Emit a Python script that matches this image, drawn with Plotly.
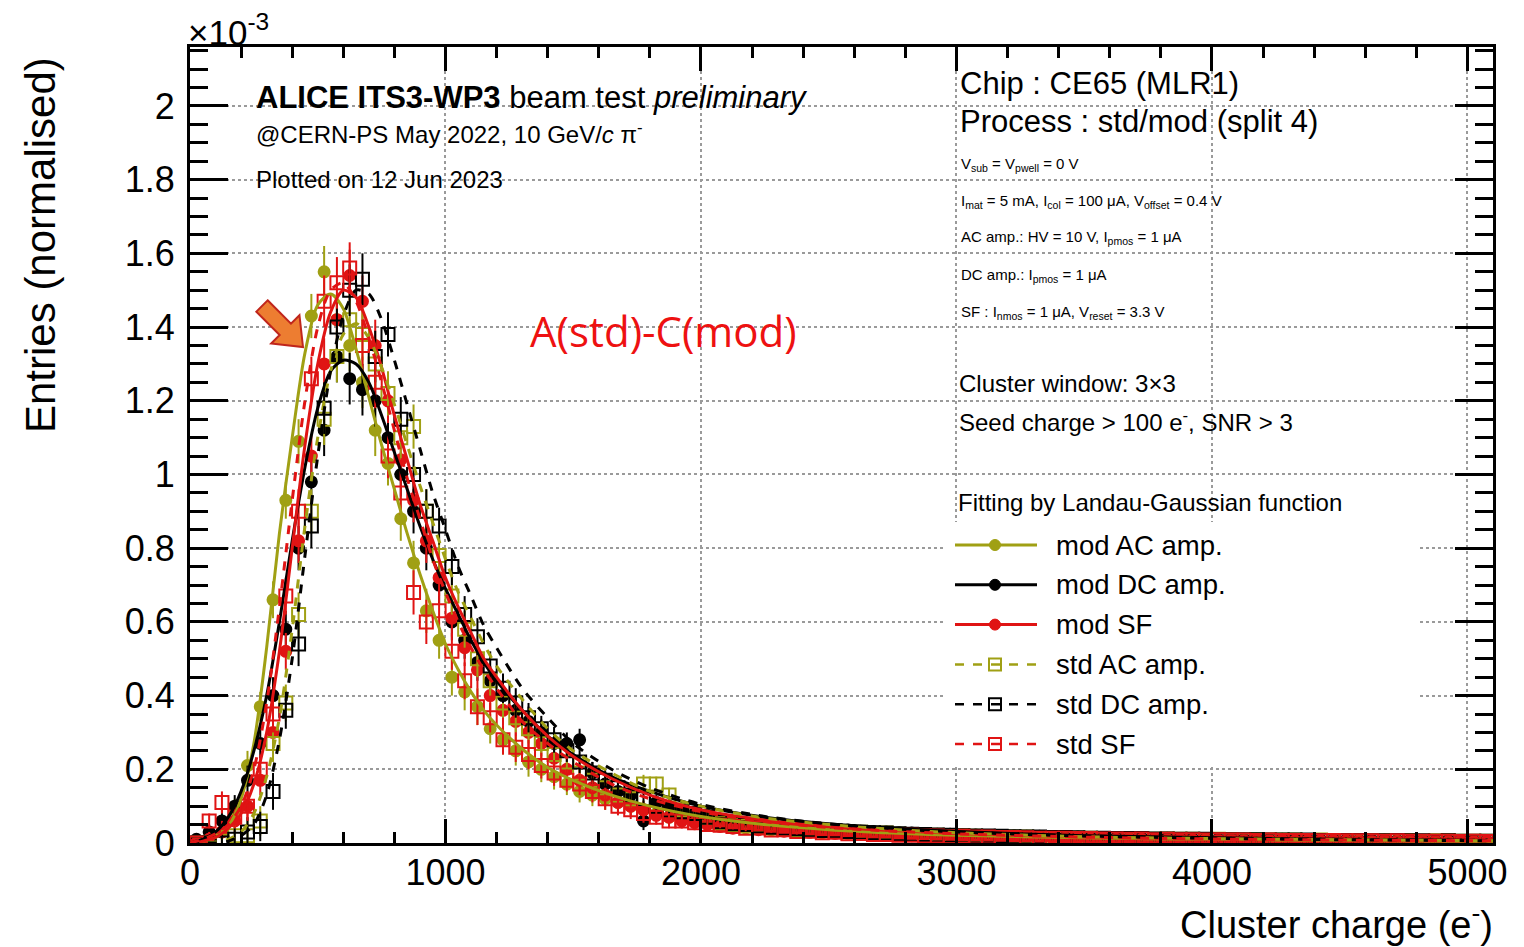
import math
import plotly.graph_objects as go

# ---------------- data (normalised entries, in units of 1e-3) ----------------
BIN_WIDTH = 50
N_BINS = 102
bin_centers = [25 + BIN_WIDTH * i for i in range(N_BINS)]

# first 41 bins (25 .. 2025 e-)
mod_ac_head = [0.00, 0.01, 0.03, 0.09, 0.21, 0.37, 0.66, 0.93, 1.09, 1.43,
               1.55, 1.42, 1.35, 1.25, 1.12, 1.03, 0.88, 0.76, 0.63, 0.55,
               0.45, 0.41, 0.37, 0.31, 0.28, 0.25, 0.22, 0.20, 0.18, 0.16,
               0.14, 0.13, 0.12, 0.11, 0.10, 0.09, 0.08, 0.07, 0.065, 0.06, 0.055]
mod_dc_head = [0.01, 0.03, 0.06, 0.10, 0.17, 0.27, 0.40, 0.58, 0.80, 0.98,
               1.12, 1.32, 1.26, 1.23, 1.20, 1.10, 1.00, 0.90, 0.80, 0.70,
               0.60, 0.55, 0.49, 0.44, 0.40, 0.36, 0.33, 0.30, 0.27, 0.27,
               0.28, 0.19, 0.16, 0.14, 0.13, 0.06, 0.11, 0.10, 0.09, 0.08, 0.075]
mod_sf_head = [0.00, 0.01, 0.03, 0.06, 0.10, 0.17, 0.30, 0.52, 0.82, 1.05,
               1.30, 1.42, 1.54, 1.47, 1.35, 1.20, 1.04, 0.93, 0.82, 0.72,
               0.61, 0.53, 0.47, 0.40, 0.36, 0.33, 0.30, 0.27, 0.23, 0.20,
               0.17, 0.15, 0.13, 0.11, 0.10, 0.09, 0.075, 0.07, 0.06, 0.055, 0.05]
std_ac_head = [0.00, 0.00, 0.005, 0.02, 0.02, 0.06, 0.27, 0.38, 0.62, 0.90,
               1.15, 1.32, 1.42, 1.38, 1.30, 1.22, 1.10, 1.13, 0.90, 0.78,
               0.67, 0.58, 0.50, 0.44, 0.38, 0.34, 0.31, 0.27, 0.24, 0.22,
               0.19, 0.17, 0.15, 0.13, 0.12, 0.16, 0.16, 0.13, 0.09, 0.08, 0.07]
std_dc_head = [0.00, 0.00, 0.00, 0.01, 0.03, 0.045, 0.14, 0.36, 0.54, 0.86,
               1.18, 1.40, 1.50, 1.53, 1.32, 1.38, 1.15, 1.00, 0.90, 0.86,
               0.75, 0.62, 0.56, 0.48, 0.42, 0.38, 0.34, 0.31, 0.28, 0.25,
               0.22, 0.19, 0.17, 0.15, 0.13, 0.12, 0.10, 0.09, 0.085, 0.08, 0.07]
std_sf_head = [0.00, 0.06, 0.11, 0.07, 0.10, 0.20, 0.35, 0.67, 0.90, 1.26,
               1.47, 1.52, 1.56, 1.35, 1.25, 1.05, 0.95, 0.68, 0.60, 0.63,
               0.52, 0.44, 0.37, 0.34, 0.28, 0.26, 0.24, 0.21, 0.19, 0.17,
               0.16, 0.14, 0.12, 0.10, 0.09, 0.08, 0.07, 0.06, 0.06, 0.055, 0.05]

# remaining 61 bins (2075 .. 5075 e-)
mod_ac_tail = [0.050, 0.047, 0.041, 0.044, 0.036, 0.038, 0.031, 0.034, 0.028, 0.030,
               0.026, 0.028, 0.023, 0.025, 0.021, 0.022, 0.019, 0.021, 0.017, 0.018,
               0.016, 0.018, 0.014, 0.016, 0.013, 0.015, 0.012, 0.014, 0.011, 0.013,
               0.010, 0.012, 0.010, 0.011, 0.009, 0.011, 0.008, 0.010, 0.008, 0.009,
               0.008, 0.009, 0.007, 0.008, 0.006, 0.008, 0.006, 0.007, 0.006, 0.007,
               0.005, 0.007, 0.005, 0.006, 0.004, 0.006, 0.005, 0.006, 0.004, 0.005, 0.005]
mod_dc_tail = [0.062, 0.058, 0.055, 0.050, 0.049, 0.044, 0.043, 0.040, 0.038, 0.036,
               0.035, 0.032, 0.031, 0.030, 0.028, 0.027, 0.026, 0.024, 0.024, 0.022,
               0.022, 0.020, 0.020, 0.019, 0.018, 0.018, 0.017, 0.016, 0.016, 0.015,
               0.015, 0.014, 0.013, 0.014, 0.012, 0.013, 0.012, 0.011, 0.012, 0.010,
               0.011, 0.010, 0.010, 0.009, 0.010, 0.009, 0.009, 0.008, 0.009, 0.008,
               0.008, 0.007, 0.008, 0.007, 0.007, 0.007, 0.006, 0.007, 0.006, 0.006, 0.006]
mod_sf_tail = [0.045, 0.040, 0.043, 0.036, 0.038, 0.032, 0.033, 0.029, 0.030, 0.026,
               0.027, 0.024, 0.025, 0.022, 0.022, 0.020, 0.021, 0.018, 0.019, 0.017,
               0.017, 0.015, 0.016, 0.014, 0.015, 0.013, 0.014, 0.012, 0.013, 0.011,
               0.012, 0.010, 0.011, 0.010, 0.010, 0.009, 0.010, 0.008, 0.009, 0.008,
               0.009, 0.007, 0.008, 0.007, 0.008, 0.006, 0.007, 0.006, 0.007, 0.006,
               0.006, 0.005, 0.006, 0.005, 0.006, 0.005, 0.005, 0.004, 0.005, 0.004, 0.005]
std_ac_tail = [0.055, 0.050, 0.046, 0.046, 0.041, 0.039, 0.036, 0.035, 0.033, 0.031,
               0.030, 0.029, 0.026, 0.027, 0.024, 0.023, 0.023, 0.021, 0.020, 0.020,
               0.018, 0.017, 0.017, 0.016, 0.016, 0.014, 0.015, 0.014, 0.013, 0.013,
               0.012, 0.012, 0.011, 0.012, 0.010, 0.011, 0.010, 0.010, 0.009, 0.010,
               0.009, 0.008, 0.009, 0.008, 0.008, 0.008, 0.007, 0.008, 0.007, 0.007,
               0.006, 0.007, 0.006, 0.006, 0.007, 0.005, 0.006, 0.006, 0.005, 0.005, 0.005]
std_dc_tail = [0.058, 0.052, 0.050, 0.046, 0.043, 0.040, 0.039, 0.036, 0.034, 0.033,
               0.031, 0.029, 0.028, 0.027, 0.025, 0.024, 0.023, 0.022, 0.021, 0.020,
               0.019, 0.019, 0.018, 0.017, 0.016, 0.016, 0.015, 0.015, 0.014, 0.013,
               0.013, 0.012, 0.012, 0.012, 0.011, 0.011, 0.010, 0.010, 0.010, 0.009,
               0.009, 0.009, 0.009, 0.008, 0.008, 0.008, 0.008, 0.007, 0.007, 0.007,
               0.007, 0.006, 0.006, 0.007, 0.006, 0.006, 0.005, 0.006, 0.005, 0.005, 0.005]
std_sf_tail = [0.048, 0.045, 0.040, 0.041, 0.035, 0.036, 0.031, 0.032, 0.028, 0.029,
               0.025, 0.026, 0.023, 0.023, 0.021, 0.021, 0.019, 0.019, 0.017, 0.018,
               0.016, 0.016, 0.015, 0.015, 0.014, 0.013, 0.013, 0.013, 0.012, 0.012,
               0.011, 0.011, 0.010, 0.011, 0.009, 0.010, 0.009, 0.009, 0.008, 0.009,
               0.008, 0.008, 0.007, 0.008, 0.007, 0.007, 0.007, 0.006, 0.007, 0.006,
               0.006, 0.006, 0.005, 0.006, 0.005, 0.005, 0.005, 0.005, 0.004, 0.005, 0.004]

# statistical errors (shared estimate) for the first 41 bins, then a small tail value
err_head = [0.01, 0.02, 0.03, 0.03, 0.04, 0.04, 0.05, 0.05, 0.06, 0.06,
            0.07, 0.07, 0.07, 0.07, 0.07, 0.06, 0.06, 0.06, 0.06, 0.05,
            0.05, 0.05, 0.05, 0.04, 0.04, 0.04, 0.04, 0.035, 0.035, 0.03,
            0.03, 0.03, 0.03, 0.025, 0.025, 0.025, 0.02, 0.02, 0.02, 0.02, 0.02]
err_tail_value = 0.008

# Landau-Gaussian fit curves sampled along x
fit_x = [0, 50, 100, 150, 200, 250, 300, 350, 400, 450, 500, 550, 600, 650, 700,
         750, 800, 850, 900, 950, 1000, 1050, 1100, 1150, 1200,
         1300, 1400, 1500, 1650, 1800, 2000, 2250, 2500, 2750, 3000, 3500, 4000, 4500, 5100]
fit_mod_ac = [0.0, 0.005, 0.015, 0.045, 0.12, 0.27, 0.53, 0.84, 1.10, 1.33, 1.46, 1.49, 1.45,
              1.34, 1.21, 1.08, 0.96, 0.84, 0.73, 0.63, 0.54, 0.47, 0.41, 0.36, 0.32,
              0.255, 0.205, 0.17, 0.13, 0.10, 0.072, 0.05, 0.036, 0.027, 0.021, 0.014, 0.010, 0.007, 0.005]
fit_mod_dc = [0.0, 0.01, 0.03, 0.07, 0.14, 0.25, 0.40, 0.60, 0.82, 1.02, 1.18, 1.28, 1.31,
              1.30, 1.25, 1.16, 1.06, 0.96, 0.86, 0.77, 0.69, 0.62, 0.55, 0.49, 0.44,
              0.36, 0.29, 0.24, 0.18, 0.14, 0.10, 0.07, 0.052, 0.040, 0.031, 0.020, 0.014, 0.010, 0.007]
fit_mod_sf = [0.0, 0.005, 0.015, 0.04, 0.08, 0.16, 0.30, 0.52, 0.80, 1.08, 1.30, 1.44, 1.50,
              1.48, 1.40, 1.29, 1.16, 1.04, 0.92, 0.82, 0.72, 0.64, 0.57, 0.50, 0.45,
              0.36, 0.29, 0.235, 0.175, 0.13, 0.09, 0.062, 0.045, 0.034, 0.026, 0.016, 0.011, 0.008, 0.006]
fit_std_ac = [0.0, 0.0, 0.003, 0.01, 0.03, 0.08, 0.18, 0.34, 0.58, 0.86, 1.10, 1.28, 1.38,
              1.41, 1.37, 1.29, 1.19, 1.08, 0.97, 0.87, 0.77, 0.68, 0.61, 0.54, 0.48,
              0.39, 0.31, 0.25, 0.19, 0.14, 0.10, 0.068, 0.05, 0.037, 0.028, 0.017, 0.012, 0.009, 0.006]
fit_std_dc = [0.0, 0.0, 0.0, 0.005, 0.02, 0.05, 0.13, 0.28, 0.50, 0.78, 1.05, 1.28, 1.43,
              1.50, 1.49, 1.42, 1.31, 1.19, 1.07, 0.95, 0.85, 0.75, 0.67, 0.59, 0.53,
              0.42, 0.34, 0.27, 0.20, 0.15, 0.105, 0.072, 0.052, 0.039, 0.030, 0.019, 0.013, 0.009, 0.006]
fit_std_sf = [0.0, 0.01, 0.025, 0.05, 0.10, 0.20, 0.38, 0.64, 0.93, 1.20, 1.40, 1.50, 1.52,
              1.47, 1.37, 1.25, 1.12, 0.99, 0.88, 0.77, 0.68, 0.60, 0.53, 0.47, 0.42,
              0.33, 0.27, 0.22, 0.16, 0.12, 0.085, 0.058, 0.042, 0.032, 0.025, 0.016, 0.011, 0.008, 0.006]

series_names = ["mod AC amp.", "mod DC amp.", "mod SF", "std AC amp.", "std DC amp.", "std SF"]
x_tick_vals = [0, 1000, 2000, 3000, 4000, 5000]
y_tick_vals = [0, 0.2, 0.4, 0.6, 0.8, 1.0, 1.2, 1.4, 1.6, 1.8, 2.0]
y_tick_text = ["0", "0.2", "0.4", "0.6", "0.8", "1", "1.2", "1.4", "1.6", "1.8", "2"]

# ---------------- styling ----------------
OLIVE = "#a0a014"
BLACK = "#000000"
RED = "#e01414"
FONT = "Liberation Sans, Arial, sans-serif"

W, H = 1524, 947
PL, PR, PT, PB = 190, 1493, 47, 843   # plot area in pixels


def fx(p):
    return (p - PL) / (PR - PL)


def fy(p):
    return (PB - p) / (PB - PT)


err_all = err_head + [err_tail_value] * (N_BINS - len(err_head))

series = [
    (series_names[0], mod_ac_head + mod_ac_tail, fit_mod_ac, OLIVE, "circle", "solid"),
    (series_names[1], mod_dc_head + mod_dc_tail, fit_mod_dc, BLACK, "circle", "solid"),
    (series_names[2], mod_sf_head + mod_sf_tail, fit_mod_sf, RED, "circle", "solid"),
    (series_names[3], std_ac_head + std_ac_tail, fit_std_ac, OLIVE, "square-open", "dash"),
    (series_names[4], std_dc_head + std_dc_tail, fit_std_dc, BLACK, "square-open", "dash"),
    (series_names[5], std_sf_head + std_sf_tail, fit_std_sf, RED, "square-open", "dash"),
]

fig = go.Figure()
for name, vals, fit, col, sym, dash in series:
    is_open = sym.endswith("open")
    fig.add_trace(go.Scatter(
        x=bin_centers, y=vals, mode="markers", name=name, showlegend=False,
        marker=dict(symbol=sym, size=13 if is_open else 11, color=col,
                    line=dict(color=col, width=2)),
        error_y=dict(type="data", array=err_all, visible=True, thickness=2, width=0, color=col),
    ))
for name, vals, fit, col, sym, dash in series:
    fig.add_trace(go.Scatter(
        x=fit_x, y=fit, mode="lines", name=name + " fit", showlegend=False,
        line=dict(color=col, width=3, dash=dash, shape="spline", smoothing=0.8),
    ))

shapes = []
annotations = []


def text(px, py, s, size, anchor="left", color="black", family=FONT, **kw):
    annotations.append(dict(x=fx(px), y=fy(py), xref="paper", yref="paper", text=s,
                            showarrow=False, xanchor=anchor, yanchor="middle",
                            font=dict(size=size, color=color, family=family), **kw))


# header texts
text(254, 97, "<b>ALICE ITS3-WP3</b> beam test <i>preliminary</i>", 31)
text(254, 133, "@CERN-PS May 2022, 10 GeV/<i>c</i> π<sup>-</sup>", 24)
text(254, 179, "Plotted on 12 Jun 2023", 24)
text(958, 84, "Chip : CE65 (MLR1)", 31)
text(958, 121, "Process : std/mod (split 4)", 31)
small = [
    "V<sub>sub</sub> = V<sub>pwell</sub> = 0 V",
    "I<sub>mat</sub> = 5 mA, I<sub>col</sub> = 100 μA, V<sub>offset</sub> = 0.4 V",
    "AC amp.: HV = 10 V, I<sub>pmos</sub> = 1 μA",
    "DC amp.: I<sub>pmos</sub> = 1 μA",
    "SF : I<sub>nmos</sub> = 1 μA, V<sub>reset</sub> = 3.3 V",
]
for i, s in enumerate(small):
    text(959, 164 + 37 * i, s, 15)
text(957, 383, "Cluster window: 3×3", 24)
text(957, 421, "Seed charge > 100 e<sup>-</sup>, SNR > 3", 24)
text(956, 502, "Fitting by Landau-Gaussian function", 24)

# axis titles and exponent
text(186, 30, "×10<sup>-3</sup>", 35)
annotations.append(dict(x=fx(40), y=fy(245), xref="paper", yref="paper",
                        text="Entries (normalised)", showarrow=False, textangle=-90,
                        xanchor="center", yanchor="middle",
                        font=dict(size=42, color="black", family=FONT)))
text(1495, 922, "Cluster charge (e<sup>-</sup>)", 38, anchor="right")

# red annotation
text(528, 330, "A(std)-C(mod)", 42, color="#ee1111", family="Open Sans, Noto Sans, sans-serif")

# legend background + entries
shapes.append(dict(type="rect", xref="paper", yref="paper", x0=fx(945), x1=fx(1420),
                   y0=fy(765), y1=fy(522), fillcolor="white", line=dict(width=0), layer="above"))
for i, (name, vals, fit, col, sym, dash) in enumerate(series):
    yy = 545 + 39.8 * i
    shapes.append(dict(type="line", xref="paper", yref="paper", x0=fx(955), x1=fx(1037),
                       y0=fy(yy), y1=fy(yy), line=dict(color=col, width=3 if dash == "solid" else 2.5,
                                                       dash=dash), layer="above"))
    if sym == "circle":
        shapes.append(dict(type="circle", xref="paper", yref="paper", xsizemode="pixel",
                           ysizemode="pixel", xanchor=fx(995), yanchor=fy(yy),
                           x0=-5.5, x1=5.5, y0=-5.5, y1=5.5, fillcolor=col,
                           line=dict(color=col, width=1), layer="above"))
    else:
        shapes.append(dict(type="rect", xref="paper", yref="paper", xsizemode="pixel",
                           ysizemode="pixel", xanchor=fx(995), yanchor=fy(yy),
                           x0=-6, x1=6, y0=-6, y1=6, fillcolor="rgba(0,0,0,0)",
                           line=dict(color=col, width=2), layer="above"))
    text(1054, yy, name, 27.5)

# orange block arrow (decoration)
tip = (303.0, 347.0)
u = (math.sqrt(0.5), math.sqrt(0.5))
nrm = (math.sqrt(0.5), -math.sqrt(0.5))
L_tot, L_head, hw_head, hw_shaft = 58.0, 25.0, 20.0, 8.0
base = (tip[0] - L_head * u[0], tip[1] - L_head * u[1])
tail = (tip[0] - L_tot * u[0], tip[1] - L_tot * u[1])
pts = [
    (tail[0] + hw_shaft * nrm[0], tail[1] + hw_shaft * nrm[1]),
    (base[0] + hw_shaft * nrm[0], base[1] + hw_shaft * nrm[1]),
    (base[0] + hw_head * nrm[0], base[1] + hw_head * nrm[1]),
    tip,
    (base[0] - hw_head * nrm[0], base[1] - hw_head * nrm[1]),
    (base[0] - hw_shaft * nrm[0], base[1] - hw_shaft * nrm[1]),
    (tail[0] - hw_shaft * nrm[0], tail[1] - hw_shaft * nrm[1]),
]
path = "M " + " L ".join(f"{fx(p[0]):.5f},{fy(p[1]):.5f}" for p in pts) + " Z"
shapes.append(dict(type="path", xref="paper", yref="paper", path=path,
                   fillcolor="#ed7d31", line=dict(color="#c0261c", width=2), layer="above"))

axis_common = dict(showline=True, linecolor="black", linewidth=3, mirror="ticks",
                   ticks="inside", tickcolor="black", tickwidth=3, zeroline=False,
                   showgrid=True, gridcolor="#9a9a9a", griddash="dot", gridwidth=2,
                   tickfont=dict(size=36, color="black", family=FONT))

fig.update_layout(
    width=W, height=H,
    margin=dict(l=PL, r=W - PR, t=PT, b=H - PB, pad=0),
    paper_bgcolor="white", plot_bgcolor="white",
    xaxis=dict(range=[0, 5100], tickvals=x_tick_vals, ticklen=24,
               ticklabelstandoff=-4,
               minor=dict(dtick=200, ticklen=11, tickwidth=3, ticks="inside",
                          tickcolor="black", showgrid=False),
               **axis_common),
    yaxis=dict(range=[0, 2.16], tickvals=y_tick_vals, ticktext=y_tick_text, ticklen=38,
               ticklabelstandoff=5,
               minor=dict(dtick=0.05, ticklen=18, tickwidth=3, ticks="inside",
                          tickcolor="black", showgrid=False),
               **axis_common),
    shapes=shapes, annotations=annotations, showlegend=False,
)

fig.write_html("out.html", config={"displayModeBar": False},
               post_script="document.body.style.margin='0px';")
